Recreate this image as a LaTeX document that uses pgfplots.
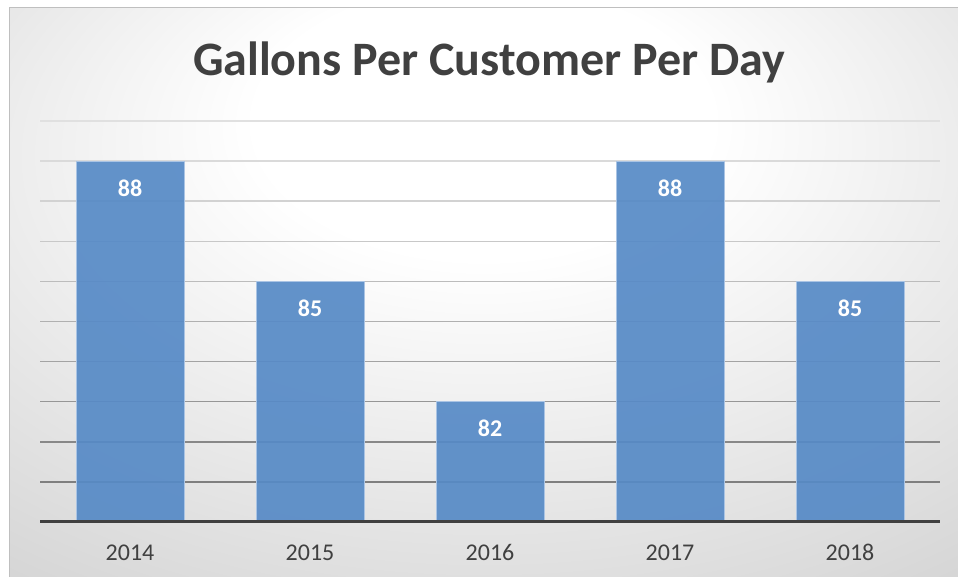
\documentclass[border=0pt]{standalone}
\usepackage{pgfplots}
\pgfplotsset{compat=1.18}
\usepackage{fontspec}
\setmainfont{Carlito}
\definecolor{txt}{HTML}{404040}
\definecolor{barc}{RGB}{86,138,198}
\definecolor{bare}{RGB}{170,196,228}
\pgfdeclareradialshading{bgshade}{\pgfpoint{0bp}{18bp}}{color(0bp)=(white); color(12bp)=(white); color(48bp)=(black!20); color(72bp)=(black!25)}
\begin{document}
\begin{tikzpicture}[x=1pt,y=1pt]
\useasboundingbox (0,0) rectangle (958,577);
\fill[white] (0,0) rectangle (958,577);
\shade[shading=bgshade] (9,0) rectangle (958,569);
\draw[black!25, line width=1pt] (9,0) -- (9,569) -- (958,569);
\node[font=\bfseries\fontsize{48}{58}\selectfont, text=txt, anchor=base] at (489,501) {Gallons Per Customer Per Day};
\begin{axis}[at={(40pt,55pt)}, anchor=south west, scale only axis,
  width=900pt, height=401pt,
  xmin=-0.5, xmax=4.5, ymin=79, ymax=89,
  axis line style={draw=none}, major tick length=0pt,
  ytick=\empty,
  xtick={0,1,2,3,4}, xticklabels={2014,2015,2016,2017,2018},
  /pgf/number format/assume math mode=true,
  xticklabel style={font=\fontsize{24}{28}\selectfont, text=txt, anchor=base, yshift=-39pt},
  clip=false,
  ]
\draw[line width=1.5pt, color={rgb,255:red,127;green,127;blue,127}] (axis cs:-0.5,80) -- (axis cs:4.5,80);
\draw[line width=1.5pt, color={rgb,255:red,136;green,136;blue,136}] (axis cs:-0.5,81) -- (axis cs:4.5,81);
\draw[line width=1.5pt, color={rgb,255:red,150;green,150;blue,150}] (axis cs:-0.5,82) -- (axis cs:4.5,82);
\draw[line width=1.5pt, color={rgb,255:red,163;green,163;blue,163}] (axis cs:-0.5,83) -- (axis cs:4.5,83);
\draw[line width=1.5pt, color={rgb,255:red,176;green,176;blue,176}] (axis cs:-0.5,84) -- (axis cs:4.5,84);
\draw[line width=1.5pt, color={rgb,255:red,188;green,188;blue,188}] (axis cs:-0.5,85) -- (axis cs:4.5,85);
\draw[line width=1.5pt, color={rgb,255:red,200;green,200;blue,200}] (axis cs:-0.5,86) -- (axis cs:4.5,86);
\draw[line width=1.5pt, color={rgb,255:red,210;green,210;blue,210}] (axis cs:-0.5,87) -- (axis cs:4.5,87);
\draw[line width=1.5pt, color={rgb,255:red,218;green,218;blue,218}] (axis cs:-0.5,88) -- (axis cs:4.5,88);
\draw[line width=1.5pt, color={rgb,255:red,224;green,224;blue,224}] (axis cs:-0.5,89) -- (axis cs:4.5,89);
\addplot[ybar, bar width=108pt, fill=barc, fill opacity=0.92, draw=bare, line width=1pt,
  nodes near coords,
  every node near coord/.append style={font=\bfseries\fontsize{24}{28}\selectfont, text=white, text opacity=1, fill opacity=1, anchor=base, yshift=-35pt}]
  coordinates {(0,88) (1,85) (2,82) (3,88) (4,85)};
\draw[line width=3pt, color=txt] (axis cs:-0.5,79) -- (axis cs:4.5,79);
\end{axis}
\end{tikzpicture}
\end{document}
